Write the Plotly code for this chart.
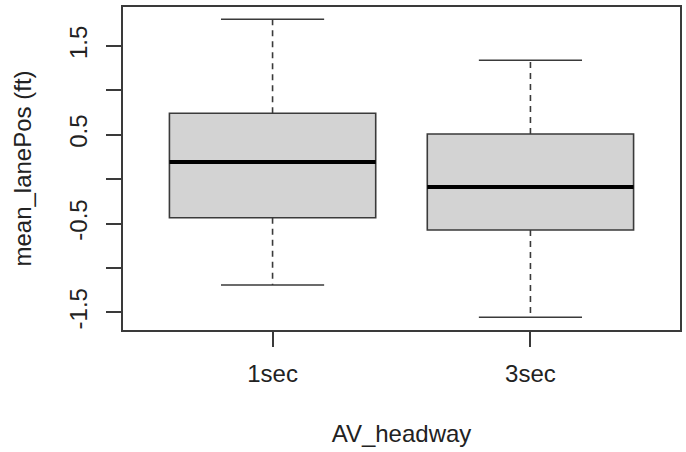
import plotly.graph_objects as go

# Group labels and five-number summaries of mean lane position (ft)
categories = ["1sec", "3sec"]
lower_whisker = [-1.192, -1.556]
q1 = [-0.434, -0.573]
median = [0.193, -0.088]
q3 = [0.742, 0.509]
upper_whisker = [1.801, 1.339]

y_ticks = [-1.5, -1.0, -0.5, 0.0, 0.5, 1.0, 1.5]
y_tick_text = ["-1.5", "", "-0.5", "", "0.5", "", "1.5"]

positions = [i + 1 for i in range(len(categories))]
box_width = 0.8
cap_half = box_width / 4

FONT = "Liberation Sans, Arial, Helvetica, sans-serif"
LINE = "#3a3a3a"

fig = go.Figure()

for pos, lo, a, m, b, hi in zip(positions, lower_whisker, q1, median, q3, upper_whisker):
    # box body (fences collapsed onto the hinges; whiskers drawn separately)
    fig.add_trace(go.Box(
        x=[pos], q1=[a], median=[m], q3=[b], lowerfence=[a], upperfence=[b],
        width=box_width, fillcolor="#d3d3d3",
        line=dict(color=LINE, width=1.6), whiskerwidth=0,
        showlegend=False, hoverinfo="skip", boxpoints=False,
    ))
    # dashed whiskers
    fig.add_trace(go.Scatter(
        x=[pos, pos, None, pos, pos], y=[b, hi, None, a, lo], mode="lines",
        line=dict(color=LINE, width=1.6, dash="6px,5px"),
        showlegend=False, hoverinfo="skip",
    ))
    # staples
    fig.add_trace(go.Scatter(
        x=[pos - cap_half, pos + cap_half, None, pos - cap_half, pos + cap_half],
        y=[hi, hi, None, lo, lo], mode="lines",
        line=dict(color=LINE, width=1.6),
        showlegend=False, hoverinfo="skip",
    ))
    # heavy median bar
    fig.add_trace(go.Scatter(
        x=[pos - box_width / 2, pos + box_width / 2], y=[m, m], mode="lines",
        line=dict(color="black", width=4),
        showlegend=False, hoverinfo="skip",
    ))

fig.update_layout(
    width=686, height=452,
    margin=dict(l=123, r=4, t=7, b=122),
    plot_bgcolor="white", paper_bgcolor="white",
    font=dict(family=FONT, size=24, color="#222"),
)

fig.update_xaxes(
    range=[0.42, 2.58], tickmode="array", tickvals=positions, ticktext=categories,
    ticks="outside", ticklen=15, tickcolor=LINE, tickwidth=1.5,
    showline=True, linecolor=LINE, linewidth=1.6, mirror=True,
    showgrid=False, zeroline=False,
    tickfont=dict(size=24), ticklabelstandoff=6,
    title=dict(text="AV_headway", font=dict(size=24), standoff=40),
)
fig.update_yaxes(
    range=[-1.699, 1.939], tickmode="array", tickvals=y_ticks, ticktext=y_tick_text,
    ticks="outside", ticklen=15, tickcolor=LINE, tickwidth=1.5,
    showline=True, linecolor=LINE, linewidth=1.6, mirror=True,
    showgrid=False, zeroline=False, tickangle=-90,
    tickfont=dict(size=24), ticklabelstandoff=10,
    title=dict(text="mean_lanePos (ft)", font=dict(size=24), standoff=26),
)

fig.write_html("out.html")
